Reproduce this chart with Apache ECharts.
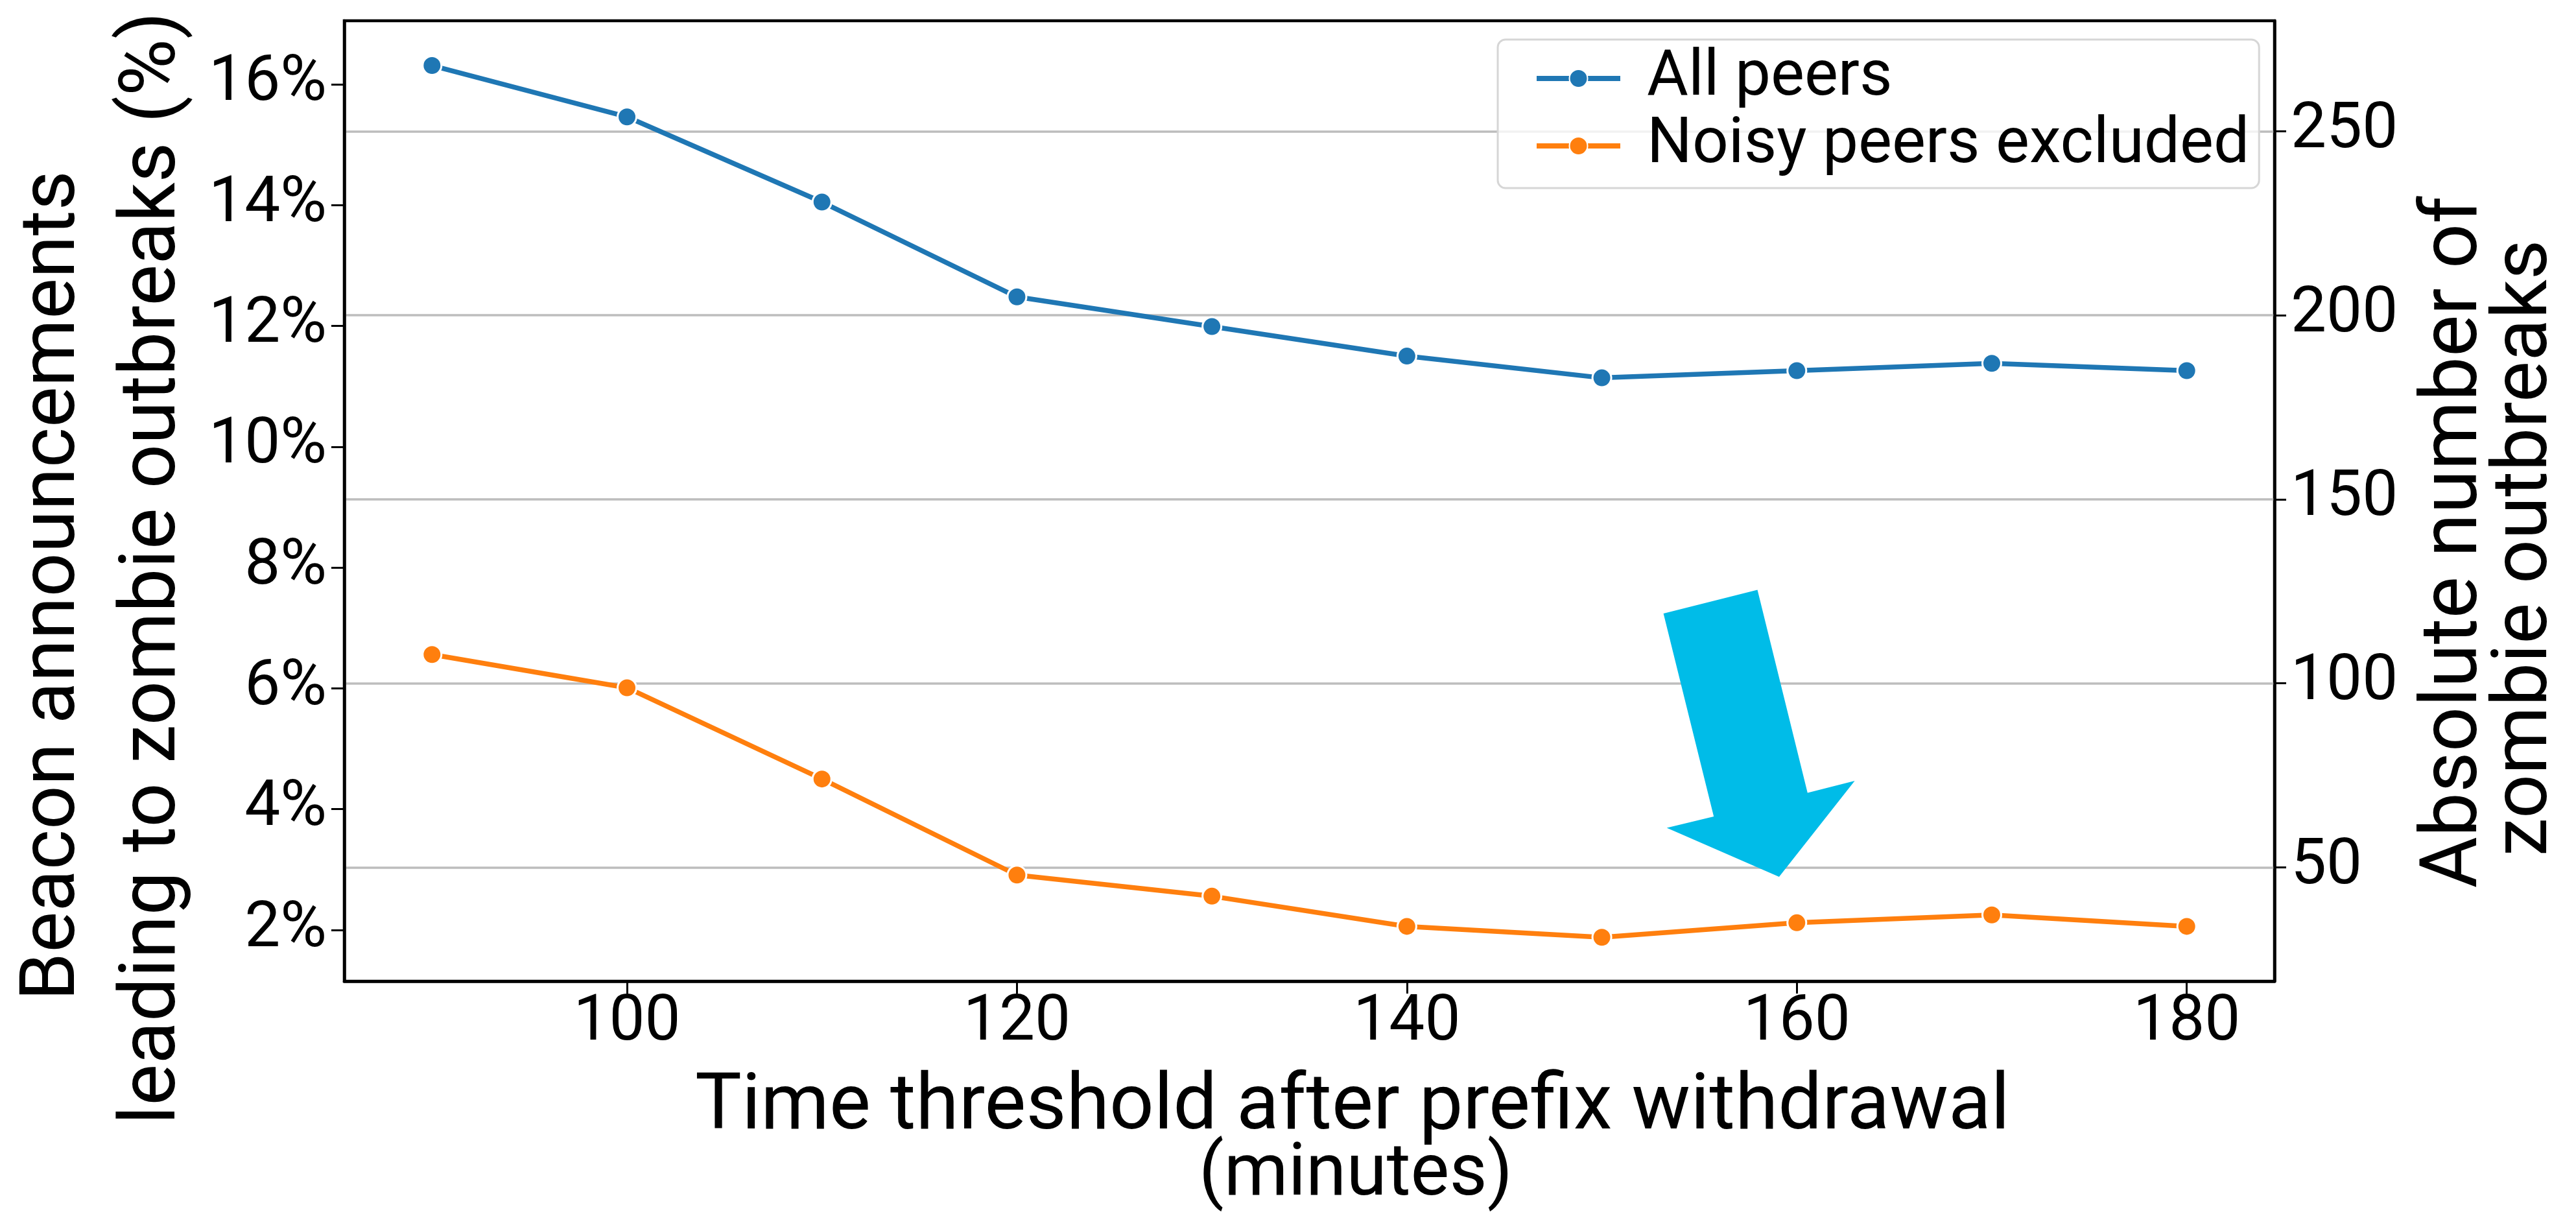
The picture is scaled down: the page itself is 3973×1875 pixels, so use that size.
<!DOCTYPE html>
<html>
<head>
<meta charset="utf-8">
<script src="https://cdn.jsdelivr.net/npm/echarts@6/dist/echarts.min.js"></script>
<style>
html, body { margin: 0; padding: 0; background: #fff; }
#chart { width: 3973px; height: 1875px; }
</style>
</head>
<body>
<div id="chart"></div>
<script>
// time threshold (minutes) and share of beacon announcements (%)
var thresholds = [90, 100, 110, 120, 130, 140, 150, 160, 170, 180];
var allPeers = [16.31, 15.46, 14.05, 12.48, 11.99, 11.50, 11.14, 11.26, 11.38, 11.26];
var noisyExcluded = [6.56, 6.01, 4.50, 2.91, 2.56, 2.06, 1.88, 2.12, 2.25, 2.06];

var xTicks = [100, 120, 140, 160, 180];
var pctTicks = [2, 4, 6, 8, 10, 12, 14, 16];
var countTicks = [50, 100, 150, 200, 250];

// outline of the cyan arrow, in (minutes, %) space
var arrowX = [153.16, 157.98, 160.55, 162.97, 159.09, 153.33, 155.74];
var arrowY = [7.24, 7.63, 4.27, 4.47, 2.88, 3.69, 3.88];

var FONT = 'Roboto';

function pairs(ys) {
    return thresholds.map(function (x, i) { return [x, ys[i]]; });
}

function lineSeries(name, ys, color) {
    return {
        name: name,
        type: 'line',
        data: pairs(ys),
        yAxisIndex: 0,
        symbol: 'circle',
        symbolSize: 29,
        lineStyle: { color: color, width: 7.5 },
        itemStyle: { color: color, borderColor: '#fff', borderWidth: 3 },
        emphasis: { disabled: true },
        z: 3
    };
}

var myChart = echarts.init(document.getElementById('chart'));

var option = {
    animation: false,
    backgroundColor: '#fff',
    textStyle: { fontFamily: FONT },
    grid: {
        left: 531, top: 32, width: 2977, height: 1481,
        show: true, borderColor: '#000', borderWidth: 4.5,
        backgroundColor: 'transparent',
        outerBoundsMode: 'none'
    },
    legend: {
        orient: 'vertical',
        left: 2310, top: 61,
        data: ['All peers', 'Noisy peers excluded'],
        itemWidth: 129, itemHeight: 35, itemGap: 4,
        padding: [10, 15, 15, 56],
        backgroundColor: 'rgba(255,255,255,0.8)',
        borderColor: '#d6d6d6', borderWidth: 3, borderRadius: 12,
        lineStyle: { width: 8 },
        selectedMode: false,
        textStyle: { fontFamily: FONT, fontSize: 98, color: '#000', lineHeight: 100, padding: [0, 0, 0, 36] }
    },
    xAxis: {
        type: 'value',
        min: 85.5, max: 184.5,
        splitNumber: 5,
        axisLine: { show: true, lineStyle: { color: '#000', width: 4.5 } },
        axisTick: { show: true, length: 19, customValues: xTicks, lineStyle: { color: '#000', width: 3 } },
        axisLabel: { customValues: xTicks, margin: 16, fontSize: 98, color: '#000', fontFamily: FONT },
        splitLine: { show: false }
    },
    yAxis: [
        {
            type: 'value',
            min: 1.152, max: 17.051,
            axisLine: { show: true, lineStyle: { color: '#000', width: 4.5 } },
            axisTick: { show: true, length: 20, customValues: pctTicks, lineStyle: { color: '#000', width: 3 } },
            axisLabel: {
                customValues: pctTicks, margin: 27, fontSize: 98, color: '#000', fontFamily: FONT,
                formatter: function (v) { return v + '%'; }
            },
            splitLine: { show: false }
        },
        {
            type: 'value',
            position: 'right',
            min: 19.07, max: 280.04,
            splitNumber: 5,
            axisLine: { show: true, lineStyle: { color: '#000', width: 4.5 } },
            axisTick: { show: true, length: 18, customValues: countTicks, lineStyle: { color: '#000', width: 3 } },
            axisLabel: { customValues: countTicks, margin: 25, fontSize: 98, color: '#000', fontFamily: FONT },
            splitLine: { show: true, lineStyle: { color: '#bdbdbd', width: 3.5 } }
        }
    ],
    series: [
        lineSeries('All peers', allPeers, '#1f77b4'),
        lineSeries('Noisy peers excluded', noisyExcluded, '#ff7f0e')
    ]
};

myChart.setOption(option);

// axis titles: size each line so its length matches the original figure
var ctx = document.createElement('canvas').getContext('2d');
function fitSize(text, targetWidth) {
    ctx.font = '120px ' + FONT;
    var s = 120 * targetWidth / ctx.measureText(text).width;
    return Math.max(112, Math.min(134, s));
}

function title(id, text, x, y, len, rot) {
    return {
        id: id, type: 'text', x: x, y: y, rotation: rot || 0, z: 10,
        style: {
            text: text, fontFamily: FONT, fontSize: fitSize(text, len),
            fill: '#000', align: 'center', verticalAlign: 'middle'
        }
    };
}

var arrowPts = arrowX.map(function (x, i) {
    return myChart.convertToPixel({ xAxisIndex: 0, yAxisIndex: 0 }, [x, arrowY[i]]);
});

myChart.setOption({
    graphic: [
        title('yl1', 'Beacon announcements', 84, 903, 1280, Math.PI / 2),
        title('yl2', 'leading to zombie outbreaks (%)', 239, 876, 1716, Math.PI / 2),
        title('yr1', 'Absolute number of', 3789, 836, 1067, Math.PI / 2),
        title('yr2', 'zombie outbreaks', 3897, 845, 951, Math.PI / 2),
        title('xl1', 'Time threshold after prefix withdrawal', 2086, 1710, 2028),
        title('xl2', '(minutes)', 2091, 1814, 484),
        { id: 'arrow', type: 'polygon', z: 5, shape: { points: arrowPts }, style: { fill: '#00bce8' } }
    ]
});
</script>
</body>
</html>
